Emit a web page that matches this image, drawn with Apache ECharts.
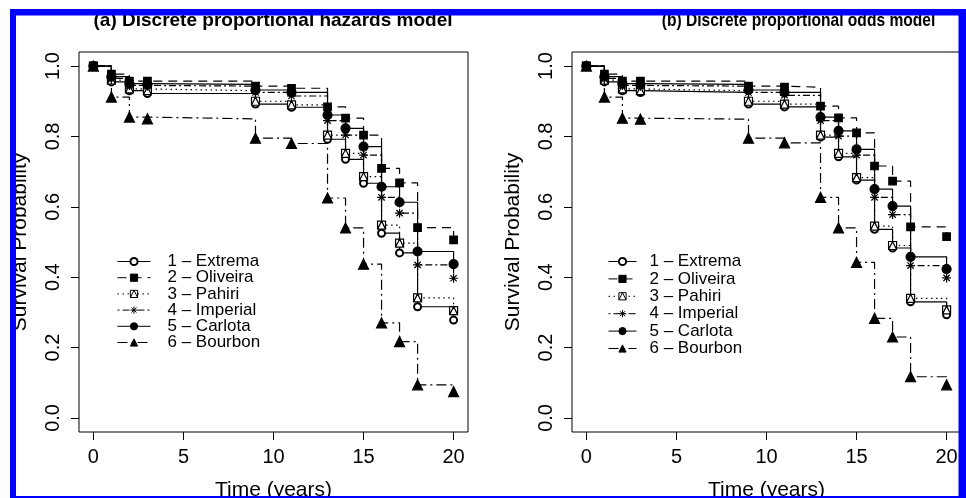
<!DOCTYPE html>
<html><head><meta charset="utf-8">
<script src="https://cdn.jsdelivr.net/npm/echarts@6/dist/echarts.min.js"></script>
<style>html,body{margin:0;padding:0;background:#fff}#c{width:966px;height:498px}</style>
</head><body><div id="c"></div>
<script>
// ---- data ----
const times = [0, 1, 2, 3, 9, 11, 13, 14, 15, 16, 17, 18, 20];
const seriesNames = ['1 – Extrema', '2 – Oliveira', '3 – Pahiri', '4 – Imperial', '5 – Carlota', '6 – Bourbon'];
// (a) proportional hazards
const phExtrema  = [1, 0.955, 0.930, 0.922, 0.892, 0.883, 0.792, 0.735, 0.667, 0.525, 0.469, 0.316, 0.278];
const phOliveira = [1, 0.977, 0.957, 0.957, 0.943, 0.937, 0.884, 0.852, 0.804, 0.709, 0.668, 0.541, 0.506];
const phPahiri   = [1, 0.960, 0.935, 0.930, 0.900, 0.890, 0.804, 0.752, 0.686, 0.548, 0.497, 0.341, 0.305];
const phImperial = [1, 0.965, 0.945, 0.943, 0.925, 0.915, 0.845, 0.804, 0.747, 0.627, 0.582, 0.435, 0.397];
const phCarlota  = [1, 0.970, 0.950, 0.948, 0.932, 0.925, 0.861, 0.823, 0.771, 0.657, 0.613, 0.473, 0.437];
const phBourbon  = [1, 0.912, 0.855, 0.850, 0.795, 0.780, 0.625, 0.540, 0.437, 0.270, 0.217, 0.094, 0.075];
// (b) proportional odds
const poExtrema  = [1, 0.955, 0.930, 0.925, 0.892, 0.884, 0.798, 0.742, 0.676, 0.536, 0.483, 0.330, 0.293];
const poOliveira = [1, 0.977, 0.957, 0.957, 0.943, 0.940, 0.886, 0.853, 0.810, 0.716, 0.673, 0.543, 0.515];
const poPahiri   = [1, 0.960, 0.935, 0.930, 0.900, 0.892, 0.804, 0.752, 0.683, 0.545, 0.490, 0.340, 0.307];
const poImperial = [1, 0.965, 0.945, 0.943, 0.925, 0.917, 0.845, 0.801, 0.747, 0.627, 0.578, 0.433, 0.398];
const poCarlota  = [1, 0.970, 0.950, 0.948, 0.932, 0.925, 0.855, 0.816, 0.763, 0.650, 0.602, 0.458, 0.423];
const poBourbon  = [1, 0.912, 0.852, 0.849, 0.795, 0.782, 0.627, 0.540, 0.442, 0.283, 0.230, 0.117, 0.094];
const xTicks = [0, 5, 10, 15, 20];
const yTicks = [0, 0.2, 0.4, 0.6, 0.8, 1.0];
const panelTitles = ['(a) Discrete proportional hazards model', '(b) Discrete proportional odds model'];
const xTitle = 'Time (years)';
const yTitle = 'Survival Probability';

// ---- styling ----
const FONT = 'Liberation Sans, Arial, Helvetica, sans-serif';
const pahiriSym = 'path://M0,0H10V10H0Z M0,10L5,0L10,10';
const starSym = 'path://M5,0V10M0,5H10M1.5,1.5L8.5,8.5M8.5,1.5L1.5,8.5';
const styles = [
  {symbol: 'emptyCircle', size: 7, dash: 'solid', fill: '#000'},
  {symbol: 'rect', size: 7.5, dash: [9, 6], fill: '#000'},
  {symbol: pahiriSym, size: 8, dash: [1.5, 3.5], fill: '#fff'},
  {symbol: starSym, size: 9, dash: [2, 3, 7, 3], fill: 'rgba(0,0,0,0)'},
  {symbol: 'circle', size: 9, dash: 'solid', fill: '#000'},
  {symbol: 'triangle', size: 10, dash: [10, 4, 2, 4], fill: '#000'}
];
const panels = [
  [phExtrema, phOliveira, phPahiri, phImperial, phCarlota, phBourbon],
  [poExtrema, poOliveira, poPahiri, poImperial, poCarlota, poBourbon]
];
const gridLefts = [79, 572];

const series = [];
panels.forEach((vals, p) => {
  vals.forEach((v, k) => {
    const s = styles[k];
    series.push({
      type: 'line',
      name: (p === 0 ? '' : 'b:') + seriesNames[k],
      xAxisIndex: p, yAxisIndex: p,
      data: times.map((t, j) => [t, v[j]]),
      step: 'end',
      symbol: s.symbol, symbolSize: s.size,
      lineStyle: {color: '#000', width: 1.2, type: s.dash},
      itemStyle: {color: s.fill, borderColor: '#000', borderWidth: 1.2},
      z: 2 + k, silent: true, animation: false
    });
  });
});

const xAxis = [0, 1].map(p => ({
  gridIndex: p, type: 'value', min: -0.8, max: 20.8,
  axisLine: {show: false, onZero: false}, splitLine: {show: false},
  axisTick: {show: true, customValues: xTicks, length: 8, lineStyle: {color: '#000', width: 1}},
  axisLabel: {customValues: xTicks, margin: 15, fontSize: 20, color: '#000', fontFamily: FONT},
  name: xTitle, nameLocation: 'middle', nameGap: 47.5,
  nameTextStyle: {fontSize: 21, color: '#000', fontFamily: FONT}
}));
const yAxis = [0, 1].map(p => ({
  gridIndex: p, type: 'value', min: -0.04, max: 1.04,
  axisLine: {show: false, onZero: false}, splitLine: {show: false},
  axisTick: {show: true, customValues: yTicks, length: 8, lineStyle: {color: '#000', width: 1}},
  axisLabel: {customValues: yTicks, rotate: 90, margin: 15.5, fontSize: 20, color: '#000', fontFamily: FONT,
              formatter: v => v.toFixed(1)},
  name: yTitle, nameLocation: 'middle', nameGap: 48, nameRotate: 90,
  nameTextStyle: {fontSize: 21, color: '#000', fontFamily: FONT}
}));

function legendData(prefix) {
  return seriesNames.map((n, k) => {
    const s = styles[k];
    return {
      name: prefix + n,
      itemStyle: {color: s.fill, borderColor: '#000', borderWidth: 1},
      lineStyle: {color: '#000', width: 1, type: s.dash}
    };
  });
}
const legendCommon = {
  orient: 'vertical', padding: 0, itemHeight: 9, selectedMode: false
};
const legend = [
  Object.assign({}, legendCommon, {
    left: 117, top: 253, itemWidth: 33, itemGap: -0.8, data: legendData(''),
    textStyle: {fontFamily: FONT, fontSize: 17, color: '#000', padding: [0, 0, 0, 12]}
  }),
  Object.assign({}, legendCommon, {
    left: 608, top: 253, itemWidth: 28, itemGap: 0.4, data: legendData('b:'),
    formatter: n => n.slice(2),
    textStyle: {fontFamily: FONT, fontSize: 17, color: '#000', padding: [0, 0, 0, 8]}
  })
];

const BLUE = '#0000ff';
const graphic = [
  {type: 'text', x: 273, y: 20.5, z: 5, style: {text: panelTitles[0], fontFamily: FONT, fontSize: 19, fontWeight: 'bold', fill: '#000', align: 'center', verticalAlign: 'middle'}},
  {type: 'text', x: 798.5, y: 20.5, z: 5, scaleX: 0.82, style: {text: panelTitles[1], fontFamily: FONT, fontSize: 19, fontWeight: 'bold', fill: '#000', align: 'center', verticalAlign: 'middle'}},
  {type: 'rect', z: 100, shape: {x: 10, y: 9, width: 956, height: 6.5}, style: {fill: BLUE}},
  {type: 'rect', z: 100, shape: {x: 10, y: 9, width: 6, height: 489}, style: {fill: BLUE}},
  {type: 'rect', z: 100, shape: {x: 958.5, y: 9, width: 7.5, height: 489}, style: {fill: BLUE}},
  {type: 'rect', z: 100, shape: {x: 10, y: 496, width: 956, height: 2}, style: {fill: BLUE}}
];

const chart = echarts.init(document.getElementById('c'), null, {renderer: 'canvas'});
chart.setOption({
  animation: false,
  backgroundColor: '#fff',
  grid: gridLefts.map(l => ({left: l, top: 52, width: 389, height: 380, show: true, borderColor: '#000', borderWidth: 1,
                             backgroundColor: 'transparent', outerBoundsMode: 'none', containLabel: false})),
  xAxis, yAxis, legend, series, graphic
});
</script></body></html>
